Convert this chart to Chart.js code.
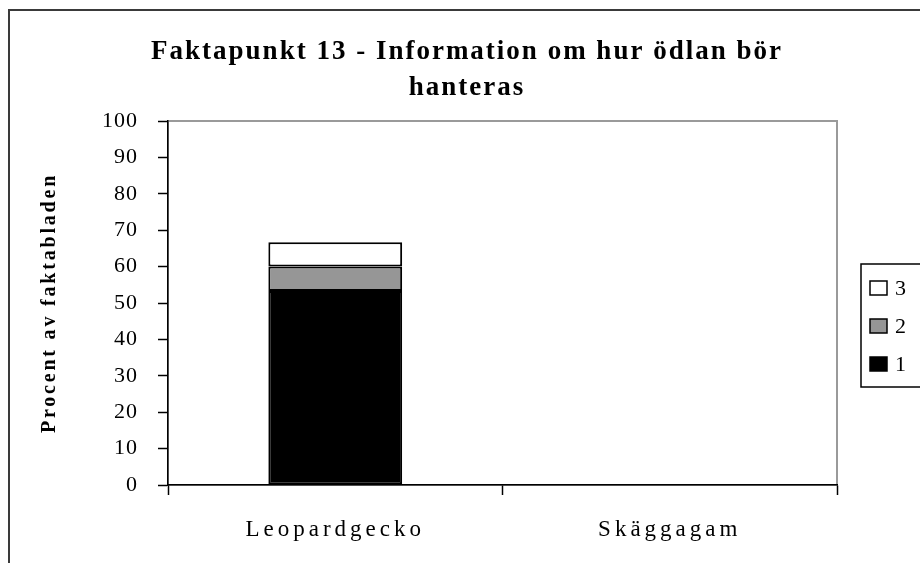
<!DOCTYPE html>
<html>
<head>
<meta charset="utf-8">
<script src="https://cdn.jsdelivr.net/npm/chart.js@4"></script>
<style>
  html, body { margin: 0; padding: 0; background: #fff; }
  #wrap { width: 920px; height: 563px; }
</style>
</head>
<body>
<div id="wrap"><canvas id="chart" width="920" height="563"></canvas></div>
<script>
    // data
    const categories = ['Leopardgecko', 'Skäggagam'];
    const seriesNames = ['1', '2', '3'];
    const values1 = [53.3, 0];
    const values2 = [6.7, 0];
    const values3 = [6.7, 0];
    const yTicks = [0, 10, 20, 30, 40, 50, 60, 70, 80, 90, 100];
    const colors = ['#000000', '#969696', '#ffffff'];

    const serif = "'Liberation Serif', 'Times New Roman', serif";

    const canvas = document.getElementById('chart');
    const ctx = canvas.getContext('2d');

    // the original text is spaced out, differently per kind of text -> pick by font
    function spacingFor(font) {
        const m = /([\d.]+)px/.exec(font);
        const size = m ? parseFloat(m[1]) : 12;
        const bold = /bold|700/.test(font);
        if (bold && size > 24) return '2px';   // chart title
        if (bold) return '2.8px';              // y axis title
        if (size >= 23) return '4px';          // category labels
        return '1px';                          // numbers, legend
    }
    const origFill = ctx.fillText;
    const origMeasure = ctx.measureText;
    ctx.fillText = function (text, x, y, maxWidth) {
        this.letterSpacing = spacingFor(this.font);
        return maxWidth === undefined ? origFill.call(this, text, x, y) : origFill.call(this, text, x, y, maxWidth);
    };
    ctx.measureText = function (text) {
        this.letterSpacing = spacingFor(this.font);
        return origMeasure.call(this, text);
    };

    // frame around the whole picture and the grey plot frame
    const framePlugin = {
        id: 'frames',
        beforeDraw(chart) {
            const c = chart.ctx;
            const a = chart.chartArea;
            c.save();
            c.fillStyle = '#fff';
            c.fillRect(0, 0, chart.width, chart.height);
            c.strokeStyle = '#3a3a3a';
            c.lineWidth = 2;
            c.beginPath();
            c.moveTo(9, chart.height + 2);
            c.lineTo(9, 10);
            c.lineTo(chart.width + 2, 10);
            c.stroke();
            c.strokeStyle = '#9a9a9a';
            c.lineWidth = 2;
            c.strokeRect(a.left, a.top, a.right - a.left, a.bottom - a.top);
            c.restore();
        }
    };

    // legend drawn by hand so the box sits where the original has it
    const legendPlugin = {
        id: 'boxLegend',
        afterDraw(chart) {
            const c = chart.ctx;
            const sets = chart.data.datasets.slice().reverse();
            c.save();
            c.strokeStyle = '#000';
            c.lineWidth = 1.5;
            c.strokeRect(861, 264, 80, 123);
            c.font = '22px ' + serif;
            c.textBaseline = 'middle';
            c.textAlign = 'left';
            sets.forEach(function (ds, i) {
                const y = 288 + i * 38;
                c.fillStyle = ds.backgroundColor;
                c.fillRect(870, y - 7, 17, 14);
                c.strokeRect(870, y - 7, 17, 14);
                c.fillStyle = '#000';
                c.fillText(ds.label, 895, y + 1);
            });
            c.restore();
        }
    };

    const datasets = [values1, values2, values3].map(function (vals, i) {
        return {
            label: seriesNames[i],
            data: vals,
            backgroundColor: colors[i],
            borderColor: '#000',
            borderWidth: 2,
            borderSkipped: false,
            categoryPercentage: 1,
            barPercentage: 0.4
        };
    });

    new Chart(ctx, {
        type: 'bar',
        data: { labels: categories, datasets: datasets },
        options: {
            responsive: false,
            animation: false,
            layout: { padding: { left: 14, right: 0, top: 0, bottom: 0 } },
            plugins: {
                legend: { display: false },
                tooltip: { enabled: false },
                title: {
                    display: true,
                    text: ['Faktapunkt 13 - Information om hur ödlan bör', 'hanteras'],
                    color: '#000',
                    font: { family: serif, size: 27, weight: 'bold', lineHeight: 36 / 27 },
                    padding: { top: 34, bottom: 15 }
                }
            },
            scales: {
                x: {
                    stacked: true,
                    afterFit(scale) { scale.height = 78; },
                    grid: { drawOnChartArea: false, tickLength: 10, tickColor: '#000', tickWidth: 1.5, offset: true },
                    border: { color: '#000', width: 1.5 },
                    ticks: { color: '#000', padding: 21, font: { family: serif, size: 23 } }
                },
                y: {
                    stacked: true,
                    min: 0,
                    max: 100,
                    afterFit(scale) { scale.width = 154; },
                    afterBuildTicks(scale) { scale.ticks = yTicks.map(function (v) { return { value: v }; }); },
                    grid: { drawOnChartArea: false, tickLength: 10, tickColor: '#000', tickWidth: 1.5 },
                    border: { color: '#000', width: 1.5 },
                    ticks: { color: '#000', padding: 20, font: { family: serif, size: 22 } },
                    title: {
                        display: true,
                        text: 'Procent av faktabladen',
                        color: '#000',
                        font: { family: serif, size: 20, weight: 'bold' },
                        padding: { top: 24 }
                    }
                },
                // empty axis on the right only to keep room for the legend box
                side: {
                    type: 'linear',
                    position: 'right',
                    afterFit(scale) { scale.width = 83; },
                    grid: { display: false },
                    border: { display: false },
                    ticks: { display: false }
                }
            }
        },
        plugins: [framePlugin, legendPlugin]
    });
</script>
</body>
</html>
